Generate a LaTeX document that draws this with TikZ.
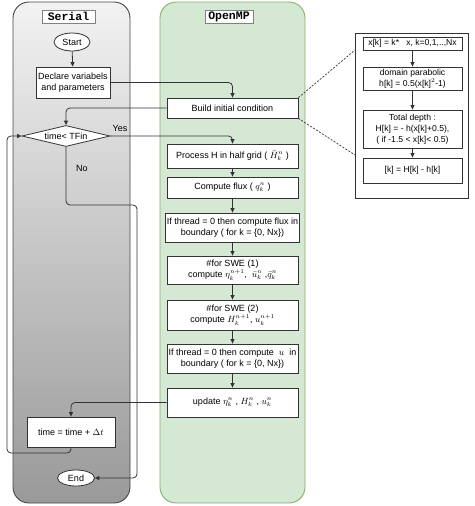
\documentclass[tikz,border=0pt]{standalone}
\usepackage{fontspec}
\setmainfont{Liberation Sans}
\setmonofont{Liberation Mono}
\usetikzlibrary{shapes.geometric,arrows.meta}
\definecolor{lnc}{HTML}{333333}
\definecolor{gfill}{HTML}{D5E8D4}
\definecolor{gdraw}{HTML}{82B366}
\definecolor{stop}{HTML}{F2F2F2}
\definecolor{sbot}{HTML}{999999}
\begin{document}
\begin{tikzpicture}[x=1pt,y=-1pt,
  font=\fontsize{9}{11.5}\selectfont,
  box/.style={draw=lnc, fill=white, align=center, inner sep=1pt, line width=0.8pt},
  ompbox/.style={box, minimum width=131pt},
  detbox/.style={box, minimum width=99pt, font=\fontsize{8.6}{11}\selectfont},
  arr/.style={-{Triangle[length=4.5pt,width=4pt]}, draw=lnc, line width=0.8pt, rounded corners=4pt},
  dsh/.style={draw=lnc, line width=0.7pt, dash pattern=on 2pt off 1.5pt},
  ttl/.style={draw=gray, fill=white, font=\fontsize{11.5}{12}\selectfont\ttfamily\bfseries, inner sep=0pt, minimum height=13pt, line width=0.8pt},
  lane/.style={line width=0.9pt, rounded corners=16pt, inner sep=0pt}]
\useasboundingbox (0,0) rectangle (474,506);

% containers
\node[lane, draw=lnc!90, top color=stop, bottom color=sbot, minimum width=117pt, minimum height=501pt] (serial) at (71.5,252.5) {};
\node[lane, draw=gdraw, fill=gfill, minimum width=145pt, minimum height=501pt] (omp) at (232.5,252.5) {};
\node[ttl, minimum width=53pt] (serialT) at (68.5,16.5) {Serial};
\node[ttl, minimum width=48pt] (ompT) at (229,16.5) {OpenMP};

% serial nodes
\node[box, ellipse, minimum width=36pt, minimum height=18pt, inner sep=0pt] (start) at (72,42) {Start};
\node[box, minimum width=74pt, minimum height=31pt] (declare) at (73,82.5) {Declare variabels\\and parameters};
\node[box, diamond, aspect=4.2, minimum width=88pt, minimum height=21pt, inner sep=0pt] (dec) at (66,136) {time\textless{} TFin};
\node[box, minimum width=88pt, minimum height=30pt] (timeb) at (71,432) {time = time + $\Delta t$};
\node[box, ellipse, minimum width=37pt, minimum height=16pt, inner sep=0pt] (endn) at (76,478) {End};

% openmp nodes
\node[ompbox, minimum height=20pt] (build) at (232.5,108) {Build initial condition};
\node[ompbox, minimum height=24pt] (proc) at (232.5,156) {Process H in half grid ( $\bar{H}_k^n$ )};
\node[ompbox, minimum height=21pt] (flux) at (232.5,187.5) {Compute flux ( $q_k^n$ )};
\node[ompbox, minimum height=29pt] (ifth) at (232.5,227.5) {If thread = 0 then compute flux in\\boundary ( for k = \{0, Nx\})};
\node[ompbox, minimum height=28pt] (swe1) at (232.5,270) {\#for SWE (1)\\compute $\eta_k^{n+1}$,\ \ $\bar{u}_k^n$\ ,$\bar{q}_k^n$};
\node[ompbox, minimum height=30pt] (swe2) at (232.5,315) {\#for SWE (2)\\compute $H_k^{n+1}$, $u_k^{n+1}$};
\node[ompbox, minimum height=29pt] (ifu) at (232.5,358.5) {If thread = 0 then compute\ \ $u$\ \ in\\boundary ( for k = \{0, Nx\})};
\node[ompbox, minimum height=29pt] (upd) at (232.5,402.5) {update $\eta_k^n$\ , $H_k^n$\ , $u_k^n$};

% detail
\node[draw=lnc, fill=white, line width=0.8pt, minimum width=113pt, minimum height=165pt] (detail) at (411.5,115.5) {};
\node[detbox, minimum height=13pt] (d1) at (412.5,43.5) {x[k] = k*\ \ \ x, k=0,1,..,Nx};
\node[detbox, minimum height=23pt] (d2) at (412.5,78.5) {domain parabolic\\h[k] = 0.5(x[k]$^2$-1)};
\node[detbox, minimum height=38pt] (d3) at (412.5,129) {Total depth :\\H[k] = - h(x[k]+0.5),\\( if -1.5 \textless{} x[k]\textless{} 0.5)};
\node[detbox, minimum height=25pt] (d4) at (412.5,170.5) {[k] = H[k] - h[k]};

% helper coordinates
\coordinate (lp1) at (7,453);
\coordinate (lp2) at (7,136);
\coordinate (n1) at (137,205);
\coordinate (dA) at (355,50);
\coordinate (dB) at (355,155);

% connectors
\draw[arr] (start) -- (declare);
\draw[arr] (declare.east) -| (build.north);
\draw[arr] (build.west) -| (dec.north);
\draw[arr] (dec.east) -| (proc.north);
\node (yes) at (120,128) {Yes};
\draw[arr] (dec.south) |- (n1) |- (endn.east);
\node (no) at (82,168) {No};
\draw[arr] (proc) -- (flux);
\draw[arr] (flux) -- (ifth);
\draw[arr] (ifth) -- (swe1);
\draw[arr] (swe1) -- (swe2);
\draw[arr] (swe2) -- (ifu);
\draw[arr] (ifu) -- (upd);
\draw[arr] (upd.west) -| (timeb.north);
\draw[arr] (timeb.south) |- (lp1) -- (lp2) -- (dec.west);
\draw[arr] (d1) -- (d2);
\draw[arr] (d2) -- (d3);
\draw[arr] (d3) -- (d4);
\draw[dsh] (build.north east) -- (dA);
\draw[dsh] (build.south east) -- (dB);
\end{tikzpicture}
\end{document}
